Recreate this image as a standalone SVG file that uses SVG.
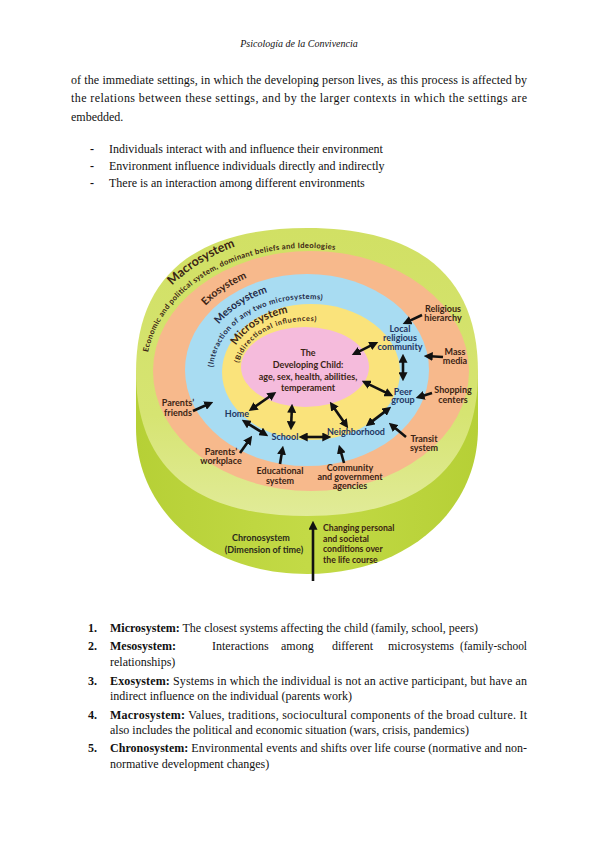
<svg xmlns="http://www.w3.org/2000/svg" width="599" height="848" viewBox="0 0 599 848">
<defs>
<style>
.pg{font-family:"Liberation Serif","Times New Roman",serif;font-size:12px;fill:#111}
.b{font-weight:bold}
.lb{font-family:Lato,"Open Sans",sans-serif;font-weight:bold;font-size:9px;text-anchor:middle}
.cv{font-family:Lato,"Open Sans",sans-serif;font-weight:bold}
.br{fill:#3b2414}
.nv{fill:#1f3763}
.ar{stroke:#111;stroke-width:2.6;fill:none;marker-end:url(#ah)}
.da{marker-start:url(#ah)}
</style>
<marker id="ah" viewBox="0 0 10 10" refX="3" refY="5" markerWidth="9" markerHeight="9" markerUnits="userSpaceOnUse" orient="auto-start-reverse"><path d="M0,0 L10,5 L0,10 z" fill="#111"/></marker>
<linearGradient id="gTop" x1="0" y1="228" x2="0" y2="516" gradientUnits="userSpaceOnUse"><stop offset="0" stop-color="#d1e064"/><stop offset="0.65" stop-color="#d6e472"/><stop offset="1" stop-color="#e1eb98"/></linearGradient>
<linearGradient id="gSide" x1="136" y1="0" x2="478" y2="0" gradientUnits="userSpaceOnUse"><stop offset="0" stop-color="#b6d036"/><stop offset="0.5" stop-color="#c3da46"/><stop offset="1" stop-color="#b6d036"/></linearGradient>
<path id="pMacro" d="M 134 372 A 173 138 0 0 1 307 234 A 173 138 0 0 1 480 372"/>
<path id="pEcon" d="M 146 372 A 161 124 0 0 1 307 248 A 161 124 0 0 1 468 372"/>
<path id="pExo" d="M 177 372 A 130 106 0 0 1 307 266 A 130 106 0 0 1 437 372"/>
<path id="pMeso" d="M 201 372 A 106 86 0 0 1 307 286 A 106 86 0 0 1 413 372"/>
<path id="pInter" d="M 213 372 A 94 73 0 0 1 307 299 A 94 73 0 0 1 401 372"/>
<path id="pMicro" d="M 228 372 A 79 61 0 0 1 307 311 A 79 61 0 0 1 386 372"/>
<path id="pBidi" d="M 238 372 A 69 51 0 0 1 307 321 A 69 51 0 0 1 376 372"/>
</defs>
<rect width="599" height="848" fill="#fff"/>

<g id="page-text" class="pg">
<text x="299" y="47" text-anchor="middle" font-style="italic" font-size="10">Psicología de la Convivencia</text>
<text x="71" y="84" textLength="456" lengthAdjust="spacing">of the immediate settings, in which the developing person lives, as this process is affected by</text>
<text x="71" y="102" textLength="456" lengthAdjust="spacing">the relations between these settings, and by the larger contexts in which the settings are</text>
<text x="71" y="121">embedded.</text>
<text x="90" y="153" class="b">-</text><text x="109" y="153">Individuals interact with and influence their environment</text>
<text x="90" y="170" class="b">-</text><text x="109" y="170">Environment influence individuals directly and indirectly</text>
<text x="90" y="187" class="b">-</text><text x="109" y="187">There is an interaction among different environments</text>
</g>

<g id="cylinder">
<path id="side" d="M 136 372 L 136 428 C 136 511.5 208 574 307 574 C 406 574 478 511.5 478 428 L 478 372 Z" fill="url(#gSide)"/>
<path id="top-face" d="M 478 372 C 478 467 419.9 516 307 516 C 194.1 516 136 467 136 372 C 136 277 194.1 228 307 228 C 419.9 228 478 277 478 372 Z" fill="url(#gTop)"/>
</g>
<g id="ring-exo"><ellipse cx="311" cy="371" rx="158" ry="120" fill="#f7b98c"/></g>
<g id="ring-meso"><ellipse cx="307" cy="370" rx="122" ry="96" fill="#a8dcf2"/></g>
<g id="ring-micro"><ellipse cx="311" cy="372" rx="89" ry="68" fill="#fae37b"/></g>
<g id="node-child"><ellipse cx="305" cy="367" rx="64" ry="40" fill="#f5bbdc"/>
<text class="lb br" font-size="10.5"><tspan x="308" y="356">The</tspan><tspan x="308" y="368">Developing Child:</tspan></text>
<text class="lb br" font-size="8.8"><tspan x="308" y="380">age, sex, health, abilities,</tspan><tspan x="308" y="391">temperament</tspan></text>
</g>

<g id="ring-labels">
<text class="cv br" font-size="12.5"><textPath href="#pMacro" startOffset="97">Macrosystem</textPath></text>
<text class="cv br" font-size="7.6"><textPath href="#pEcon" startOffset="20" textLength="233" lengthAdjust="spacing">Economic and political system, dominant beliefs and Ideologies</textPath></text>
<text class="cv br" font-size="10.5"><textPath href="#pExo" startOffset="74">Exosystem</textPath></text>
<text class="cv" fill="#1f2a48" font-size="10.5"><textPath href="#pMeso" startOffset="52">Mesosystem</textPath></text>
<text class="cv" fill="#1f2a48" font-size="7.6"><textPath href="#pInter" startOffset="5" textLength="142" lengthAdjust="spacing">(Interaction of any two microsystems)</textPath></text>
<text class="cv br" font-size="11"><textPath href="#pMicro" startOffset="28">Microsystem</textPath></text>
<text class="cv br" font-size="7.2"><textPath href="#pBidi" startOffset="9" textLength="95" lengthAdjust="spacing">(Bidirectional influences)</textPath></text>
</g>

<g id="node-religious"><text class="lb br"><tspan x="443" y="312">Religious</tspan><tspan x="443" y="321">hierarchy</tspan></text></g>
<g id="node-local"><text class="lb nv"><tspan x="400" y="332">Local</tspan><tspan x="400" y="341">religious</tspan><tspan x="400" y="350">community</tspan></text></g>
<g id="node-mass"><text class="lb br"><tspan x="455" y="355">Mass</tspan><tspan x="455" y="364">media</tspan></text></g>
<g id="node-peer"><text class="lb nv"><tspan x="403" y="395">Peer</tspan><tspan x="403" y="403">group</tspan></text></g>
<g id="node-shopping"><text class="lb br"><tspan x="453" y="393">Shopping</tspan><tspan x="453" y="403">centers</tspan></text></g>
<g id="node-transit"><text class="lb br"><tspan x="424" y="442">Transit</tspan><tspan x="424" y="451">system</tspan></text></g>
<g id="node-neighborhood"><text class="lb nv" x="356" y="435">Neighborhood</text></g>
<g id="node-school"><text class="lb nv" x="285" y="440">School</text></g>
<g id="node-home"><text class="lb nv" x="237" y="417">Home</text></g>
<g id="node-friends"><text class="lb br"><tspan x="178" y="406">Parents’</tspan><tspan x="178" y="416">friends</tspan></text></g>
<g id="node-workplace"><text class="lb br"><tspan x="221" y="455">Parents’</tspan><tspan x="221" y="464">workplace</tspan></text></g>
<g id="node-educational"><text class="lb br"><tspan x="280" y="474">Educational</tspan><tspan x="280" y="484">system</tspan></text></g>
<g id="node-community"><text class="lb br"><tspan x="350" y="471">Community</tspan><tspan x="350" y="480">and government</tspan><tspan x="350" y="489">agencies</tspan></text></g>
<g id="node-chrono">
<text class="lb" fill="#2a2a1c" font-size="10" x="261" y="541">Chronosystem</text>
<text class="lb" fill="#2a2a1c" font-size="8.5" x="264" y="553">(Dimension of time)</text>
<text class="cv br" font-size="8.7"><tspan x="323" y="531">Changing personal</tspan><tspan x="323" y="541.5">and societal</tspan><tspan x="323" y="552">conditions over</tspan><tspan x="323" y="562.5">the life course</tspan></text>
</g>

<g id="connectors">
<line class="ar" x1="422" y1="315" x2="408.4" y2="321.4"/>
<line class="ar" x1="443" y1="357" x2="430" y2="356.3"/>
<line class="ar" x1="432" y1="393" x2="421.7" y2="396.2"/>
<line class="ar" x1="406" y1="437" x2="393.6" y2="426.8"/>
<line class="ar" x1="344" y1="463" x2="340.6" y2="450.8"/>
<line class="ar" x1="280" y1="464" x2="282" y2="451.9"/>
<line class="ar" x1="240" y1="453" x2="248.5" y2="440.9"/>
<line class="ar" x1="193" y1="411" x2="207.5" y2="404.5"/>
<line class="ar" x1="313" y1="581" x2="313" y2="527"/>
<line class="ar da" x1="357.4" y1="352.3" x2="372.6" y2="344.7"/>
<line class="ar da" x1="403" y1="360" x2="403" y2="375"/>
<line class="ar da" x1="367.4" y1="383.6" x2="387.6" y2="393.4"/>
<line class="ar da" x1="370.8" y1="422.4" x2="386.2" y2="410.6"/>
<line class="ar da" x1="333.4" y1="406.9" x2="344.6" y2="423.1"/>
<line class="ar da" x1="305" y1="437" x2="325" y2="437"/>
<line class="ar da" x1="291.8" y1="410" x2="291.2" y2="424"/>
<line class="ar da" x1="253.9" y1="407.5" x2="271.1" y2="395.5"/>
<line class="ar da" x1="247.1" y1="423.1" x2="262.9" y2="432.9"/>
</g>

<g id="list-text" class="pg">
<text x="88" y="632" class="b">1.</text>
<text x="110" y="632"><tspan class="b">Microsystem:</tspan> The closest systems affecting the child (family, school, peers)</text>
<text x="88" y="650" class="b">2.</text>
<text x="110" y="650" class="b">Mesosystem:</text>
<text x="212" y="650">Interactions</text>
<text x="281" y="650">among</text>
<text x="332" y="650">different</text>
<text x="388" y="650">microsystems</text>
<text x="460" y="650" textLength="67" lengthAdjust="spacingAndGlyphs">(family-school</text>
<text x="110" y="666">relationships)</text>
<text x="88" y="685" class="b">3.</text>
<text x="110" y="685" textLength="417" lengthAdjust="spacing"><tspan class="b">Exosystem:</tspan>  Systems in which the individual is not an active participant, but have an</text>
<text x="110" y="700">indirect influence on the individual (parents work)</text>
<text x="88" y="719" class="b">4.</text>
<text x="110" y="719" textLength="417" lengthAdjust="spacing"><tspan class="b">Macrosystem:</tspan> Values, traditions, sociocultural components of the broad culture. It</text>
<text x="110" y="734">also includes the political and economic situation (wars, crisis, pandemics)</text>
<text x="88" y="752" class="b">5.</text>
<text x="110" y="752" textLength="417" lengthAdjust="spacing"><tspan class="b">Chronosystem:</tspan> Environmental events and shifts over life course (normative and non-</text>
<text x="110" y="768">normative development changes)</text>
</g>
</svg>
